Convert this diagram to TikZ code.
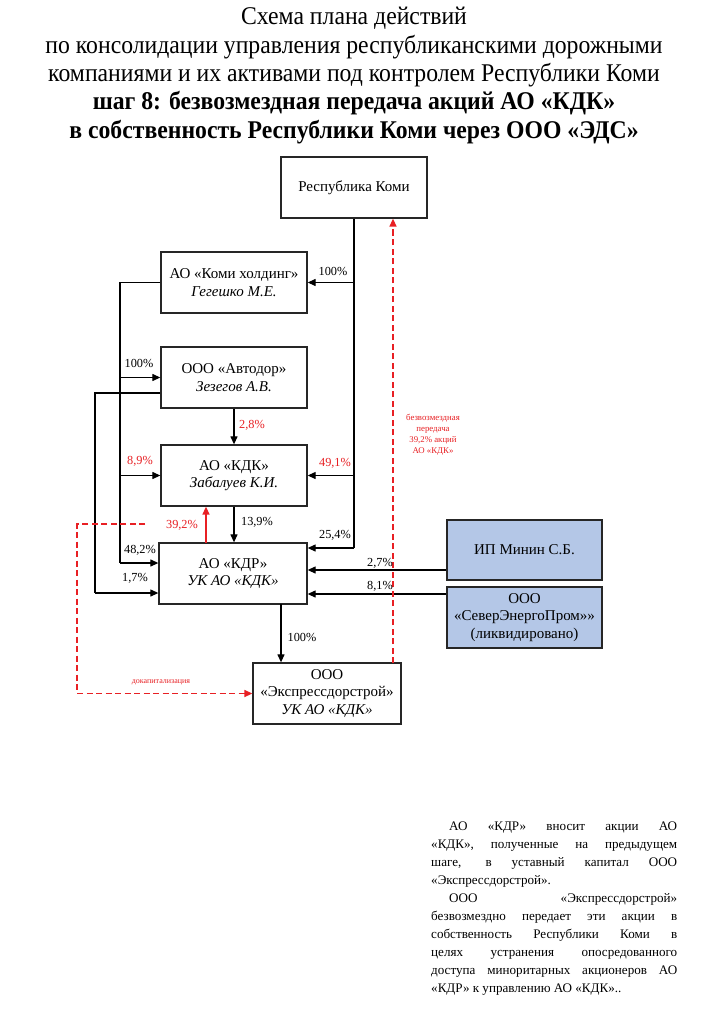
\documentclass[tikz,border=0pt]{standalone}
\usepackage{fontspec}
\setmainfont{Liberation Serif}
\usetikzlibrary{arrows.meta,calc}
\definecolor{myred}{RGB}{232,32,36}
\definecolor{myblue}{RGB}{180,199,231}
\newcommand{\tline}[1]{\scalebox{0.93}[1]{#1}}
\begin{document}
\begin{tikzpicture}[x=1pt,y=-1pt,
  box/.style={draw=black!85,line width=1.3pt,inner sep=1pt,align=center,
    minimum width=146pt,minimum height=61pt,font=\fontsize{15}{17.5}\selectfont},
  bluebox/.style={box,fill=myblue,minimum width=155pt,minimum height=60pt},
  ln/.style={line width=1.2pt,draw=black},
  arr/.style={ln,-{Triangle[length=8pt,width=7pt]}},
  redarr/.style={line width=1.4pt,draw=myred,-{Triangle[length=8pt,width=7pt]}},
  reddash/.style={redarr,dash pattern=on 6pt off 3.5pt},
  pct/.style={font=\fontsize{12.3}{14}\selectfont,inner sep=0pt},
  rpct/.style={pct,text=myred},
  tiny/.style={font=\fontsize{8.8}{11}\selectfont,text=myred,align=center,inner sep=0pt},
  ttl/.style={anchor=base,inner sep=0pt,font=\fontsize{25.5}{28}\selectfont}]
\useasboundingbox (0,0) rectangle (708,1024);
\fill[white] (0,0) rectangle (708,1024);
% title
\node[ttl] (ti1) at (354,25) {\tline{Схема плана действий}};
\node[ttl] (ti2) at (354,53.3) {\tline{по консолидации управления республиканскими дорожными}};
\node[ttl] (ti3) at (354,81.8) {\tline{компаниями и их активами под контролем Республики Коми}};
\node[ttl] (ti4) at (354,110) {\tline{\textbf{шаг 8: безвозмездная передача акций АО «КДК»}}};
\node[ttl] (ti5) at (354,138.5) {\tline{\textbf{в собственность Республики Коми через ООО «ЭДС»}}};
% boxes
\node[box] (rk) at (354,187.5) {Республика Коми};
\node[box] (kh) at (234,282.5) {АО «Коми холдинг»\\\textit{Гегешко М.Е.}};
\node[box] (avt) at (234,377.5) {ООО «Автодор»\\\textit{Зезегов А.В.}};
\node[box] (kdk) at (234,475.5) {АО «КДК»\\\textit{Забалуев К.И.}};
\node[box,minimum width=148pt] (kdr) at (233,573.5) {АО «КДР»\\\textit{УК АО «КДК»}};
\node[box,minimum width=148pt] (eds) at (327,693.5) {ООО\\«Экспрессдорстрой»\\\textit{УК АО «КДК»}};
\node[bluebox] (ip) at (524.5,550) {ИП Минин С.Б.};
\node[bluebox,minimum height=61pt] (sep) at (524.5,617.5) {ООО\\«СеверЭнергоПром»»\\(ликвидировано)};
% right trunk from Республика Коми
\coordinate (ra) at (354,548);
\draw[ln] (rk.south) -- (ra);
\draw[arr] (ra) -- (ra -| kdr.east);
\draw[arr] (rk.south |- kh.east) -- (kh.east);
\draw[arr] (rk.south |- kdk.east) -- (kdk.east);
% left trunk from Коми холдинг
\coordinate (la) at (120,563);
\draw[ln] (kh.west) -| (la);
\draw[arr] (la) -- (la -| kdr.west);
\draw[arr] (la |- avt.west) -- (avt.west);
\draw[arr] (la |- kdk.west) -- (kdk.west);
% trunk from Автодор
\coordinate (mb) at (95,593);
\draw[ln] ([yshift=-15.5pt]avt.west) -| (mb);
\draw[arr] (mb) -- (mb -| kdr.west);
% vertical links
\draw[arr] (avt.south) -- (kdk.north);
\draw[arr] (kdk.south) -- (kdk.south |- kdr.north);
\coordinate (r0) at (206,543);
\draw[redarr] (r0) -- (r0 |- kdk.south);
\coordinate (k0) at (281,604);
\draw[arr] (k0) -- (k0 |- eds.north);
% minority holders
\coordinate (p27) at ([yshift=-20pt]ip.west);
\draw[arr] (p27) -- (p27 -| kdr.east);
\coordinate (p81) at ([yshift=23.5pt]sep.west);
\draw[arr] (p81) -- (p81 -| kdr.east);
% red dashed
\coordinate (e0) at (393,663);
\draw[reddash] (e0) -- (e0 |- rk.south);
\coordinate (d0) at (145,524);
\coordinate (dc) at (77,693.5);
\draw[reddash] (d0) -- (d0 -| dc) -- (dc) -- (eds.west);
% labels
\node[pct] (l1) at (333,271) {100\%};
\node[pct] (l2) at (139,363) {100\%};
\node[rpct] (l3) at (252,425) {2,8\%};
\node[rpct] (l4) at (140,461) {8,9\%};
\node[rpct] (l5) at (335,463) {49,1\%};
\node[pct] (l6) at (257,522) {13,9\%};
\node[rpct] (l7) at (182,525) {39,2\%};
\node[pct] (l8) at (335,535) {25,4\%};
\node[pct] (l9) at (140,550) {48,2\%};
\node[pct] (l10) at (135,578) {1,7\%};
\node[pct] (l11) at (380,563) {2,7\%};
\node[pct] (l12) at (380,586) {8,1\%};
\node[pct] (l13) at (302,637) {100\%};
\node[tiny] (t1) at (433,435) {безвозмездная\\передача\\39,2\% акций\\АО «КДК»};
\node[tiny,font=\fontsize{8}{10}\selectfont] (t2) at (161,682) {докапитализация};
% note
\node[anchor=base west,inner sep=0pt] (note) at (431,830) {\begin{minipage}[t]{246pt}
\fontsize{13.1}{18.1}\selectfont\hyphenpenalty=10000\setlength{\parindent}{18pt}%
\indent АО «КДР» вносит акции АО\linebreak
«КДК», полученные на предыдущем\linebreak
шаге, в уставный капитал ООО\linebreak
«Экспрессдорстрой».\par
\indent ООО «Экспрессдорстрой»\linebreak
безвозмездно передает эти акции в\linebreak
собственность Республики Коми в\linebreak
целях устранения опосредованного\linebreak
доступа миноритарных акционеров АО\linebreak
«КДР» к управлению АО «КДК»..\par
\end{minipage}};
\end{tikzpicture}
\end{document}
